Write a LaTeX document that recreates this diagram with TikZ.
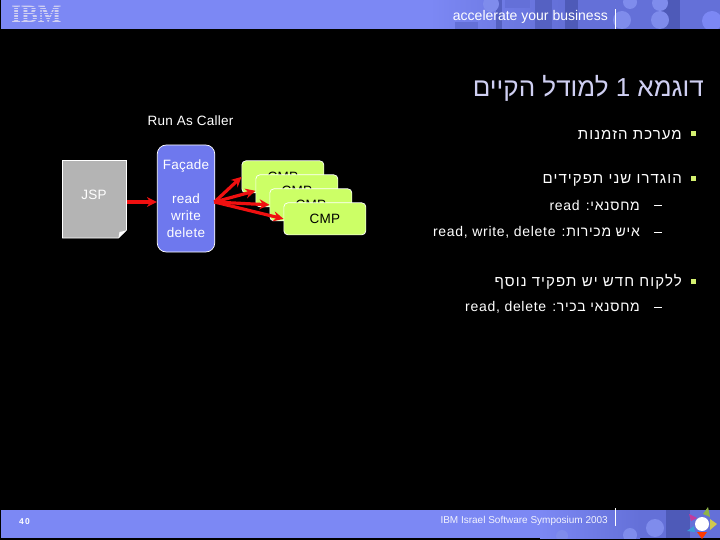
\documentclass[tikz,border=0pt]{standalone}
\usepackage{fontspec}
\setmainfont{Liberation Sans}
\newfontfamily\hebfont[Script=Hebrew]{Liberation Sans}
\newfontfamily\hebwide[Script=Hebrew,LetterSpace=7]{Liberation Sans}
\newfontfamily\hebsubfont[Script=Hebrew,LetterSpace=5]{Liberation Sans}
\newfontfamily\diagfont[LetterSpace=2]{Liberation Sans}
\newfontfamily\logofont{Liberation Serif}
\TeXXeTstate=1
\usetikzlibrary{arrows.meta}
\definecolor{barblue}{HTML}{7C88F4}
\definecolor{bardark}{HTML}{4E5AB8}
\definecolor{barmid}{HTML}{6470D8}
\definecolor{barlight}{HTML}{7F8CEC}
\definecolor{facadeblue}{HTML}{6E78EE}
\definecolor{cmpgreen}{HTML}{CCFF66}
\definecolor{jspgrey}{HTML}{B4B4B4}
\definecolor{titlec}{HTML}{CFCFF2}
\definecolor{bulletc}{HTML}{D4F070}
\definecolor{linkred}{HTML}{F01010}
\tikzset{
 x=1pt,y=-1pt,
 diag/.style={font=\diagfont\fontsize{13.5}{15.5}\selectfont,text=white,inner sep=0pt,align=center},
 cmpbox/.style={draw=white,line width=.7pt,fill=cmpgreen,rounded corners=4pt,minimum width=82pt,minimum height=32pt,inner sep=0pt,anchor=north west,font=\diagfont\fontsize{13.5}{15}\selectfont,text=black},
 link/.style={draw=linkred,line width=3.2pt,-{Stealth[length=10pt,width=10pt]}},
 heb/.style={anchor=east,inner sep=0pt,text=white,font=\hebwide\fontsize{15}{17}\selectfont},
 hebsub/.style={anchor=east,inner sep=0pt,text=white,font=\hebsubfont\fontsize{14}{15}\selectfont},
 bulletmark/.style={fill=bulletc,draw=none,minimum size=5pt,inner sep=0pt},
 dashmark/.style={fill=white,draw=none,minimum width=7.5pt,minimum height=.9pt,inner sep=0pt},
 bardarkblob/.style={fill=bardark,draw=none},
}
\begin{document}
\begin{tikzpicture}
\useasboundingbox (0,0) rectangle (720,540);
\fill[black] (0,0) rectangle (720,540);
% header bar
\fill[barblue] (1,0) rectangle (720,29);
\begin{scope}
\clip (430,0) rectangle (720,29);
\shade[left color=barblue,right color=barmid] (430,0) rectangle (560,29);
\fill[barmid] (560,0) rectangle (720,29);
\fill[barmid] (455,22) rectangle (478,29);
\fill[barmid] (505,0) rectangle (530,8);
\fill[bardark!70!barmid] (496,0) rectangle (502,29);
\fill[bardark!70!barmid] (535,0) rectangle (552,29);
\fill[bardarkblob] (565,0) rectangle (578,29);
\fill[bardarkblob] (660,0) rectangle (680,29);
\fill[barlight] (491,4) circle (8);
\fill[barlight] (622,20) circle (9);
\fill[barlight] (660,20) circle (9);
\fill[barlight] (660,3) circle (8);
\fill[barblue] (712,21) circle (10);
\fill[barlight] (630,2) circle (7);
\end{scope}
% IBM logo
\node[inner sep=0pt,text=titlec,font=\logofont\bfseries\fontsize{25}{25}\selectfont] (ibm) at (36.5,14.5) {IBM};
\foreach \yy in {6.8,9.3,11.8,14.3,16.8,19.3,21.8}{\fill[barblue] (10,\yy) rectangle (64,\yy+.8);}
\node[inner sep=0pt,text=white,anchor=east,font=\fontsize{14}{15}\selectfont] (acc) at (608,17) {accelerate your business};
\fill[white] (614.6,9.5) rectangle (615.6,29);
% footer bar
\fill[barblue] (1,510) rectangle (720,538);
\begin{scope}
\clip (540,510) rectangle (720,538);
\shade[left color=barblue,right color=barmid] (540,510) rectangle (640,538);
\fill[barmid] (640,510) rectangle (720,538);
\fill[bardarkblob] (666,510) rectangle (690,538);
\fill[barlight] (655,528) circle (9);
\fill[barlight] (630,535) circle (7);
\fill[barlight] (562,536) circle (6);
\end{scope}
\node[inner sep=0pt,text=white,font=\bfseries\fontsize{8.5}{10}\selectfont] (pg) at (24.5,521.5) {4\hspace{1.5pt}0};
\node[inner sep=0pt,text=white!90!barblue,anchor=east,font=\fontsize{10}{12}\selectfont] (sym) at (608,521) {IBM Israel Software Symposium 2003};
\fill[white] (614.6,508) rectangle (615.6,526);
% footer emblem
\fill[cmpgreen!70!black] (703,514) -- (708,507) -- (710,517) -- cycle;
\fill[magenta!60!barmid] (689,514) -- (697,518) -- (691,521) -- cycle;
\fill[yellow!70!barmid] (710,519) -- (710,530) -- (717,524) -- cycle;
\fill[cyan!60!barmid] (687,531) -- (694,526) -- (695,532) -- cycle;
\fill[red!55!orange] (697,532) -- (707,532) -- (702,539) -- cycle;
\fill[white] (702,524) circle (7);
% title and bullets
\node[anchor=east,inner sep=0pt,text=titlec,font=\hebfont\fontsize{26}{30}\selectfont] (title) at (704,88) {\beginR דוגמא \beginL 1\endL{} למודל הקיים\endR};
\node[bulletmark] (b1) at (693.5,134) {};
\node[heb] (t1) at (682,135) {\beginR מערכת הזמנות\endR};
\node[bulletmark] (b2) at (693.5,179) {};
\node[heb] (t2) at (682,180) {\beginR הוגדרו שני תפקידים\endR};
\node[dashmark] (d1) at (658,205) {};
\node[hebsub] (s1) at (640,205) {\beginR מחסנאי: \beginL read\endL\endR};
\node[dashmark] (d2) at (658,232.5) {};
\node[hebsub] (s2) at (640,232) {\beginR איש מכירות: \beginL read, write, delete\endL\endR};
\node[bulletmark] (b3) at (693.5,281) {};
\node[heb] (t3) at (682,282) {\beginR ללקוח חדש יש תפקיד נוסף\endR};
\node[dashmark] (d3) at (658,307.5) {};
\node[hebsub] (s3) at (640,307) {\beginR מחסנאי בכיר: \beginL read, delete\endL\endR};
% diagram
\node[diag] (run) at (190.5,121) {Run As Caller};
\path[draw=white,line width=.7pt,fill=jspgrey] (62.5,160.5) -- (126.5,160.5) -- (126.5,230) -- (118.5,238) -- (62.5,238) -- cycle;
\path[fill=white] (126.5,230.5) -- (118.5,238) -- (119.5,232) -- cycle;
\node[minimum width=64pt,minimum height=77pt,inner sep=0pt] (jsp) at (94.5,199) {};
\node[diag] (jsplabel) at (94,195) {JSP};
\node[draw=white,line width=.7pt,fill=facadeblue,rounded corners=9pt,minimum width=57.5pt,minimum height=107pt,inner sep=0pt] (facade) at (186,198.5) {};
\node[diag] (ftop) at (186,166.5) {Façade};
\node[diag,font=\diagfont\fontsize{13.5}{17}\selectfont] (fops) at (186,216) {read\\write\\delete};
\node[cmpbox] (cmpa) at (241.5,160.5) {CMP};
\node[cmpbox] (cmpb) at (255.5,174.5) {CMP};
\node[cmpbox] (cmpc) at (269.5,188.5) {CMP};
\node[cmpbox] (cmpd) at (283.5,202.5) {CMP};
\coordinate (fout) at (214.5,202);
\draw[link] (jsp.east |- fout) -- (facade.west |- fout);
\draw[link] (fout) -- (cmpa.west);
\draw[link] (fout) -- (cmpb.west);
\draw[link] (fout) -- (cmpc.west);
\draw[link] (fout) -- (cmpd.west);
\end{tikzpicture}
\end{document}
